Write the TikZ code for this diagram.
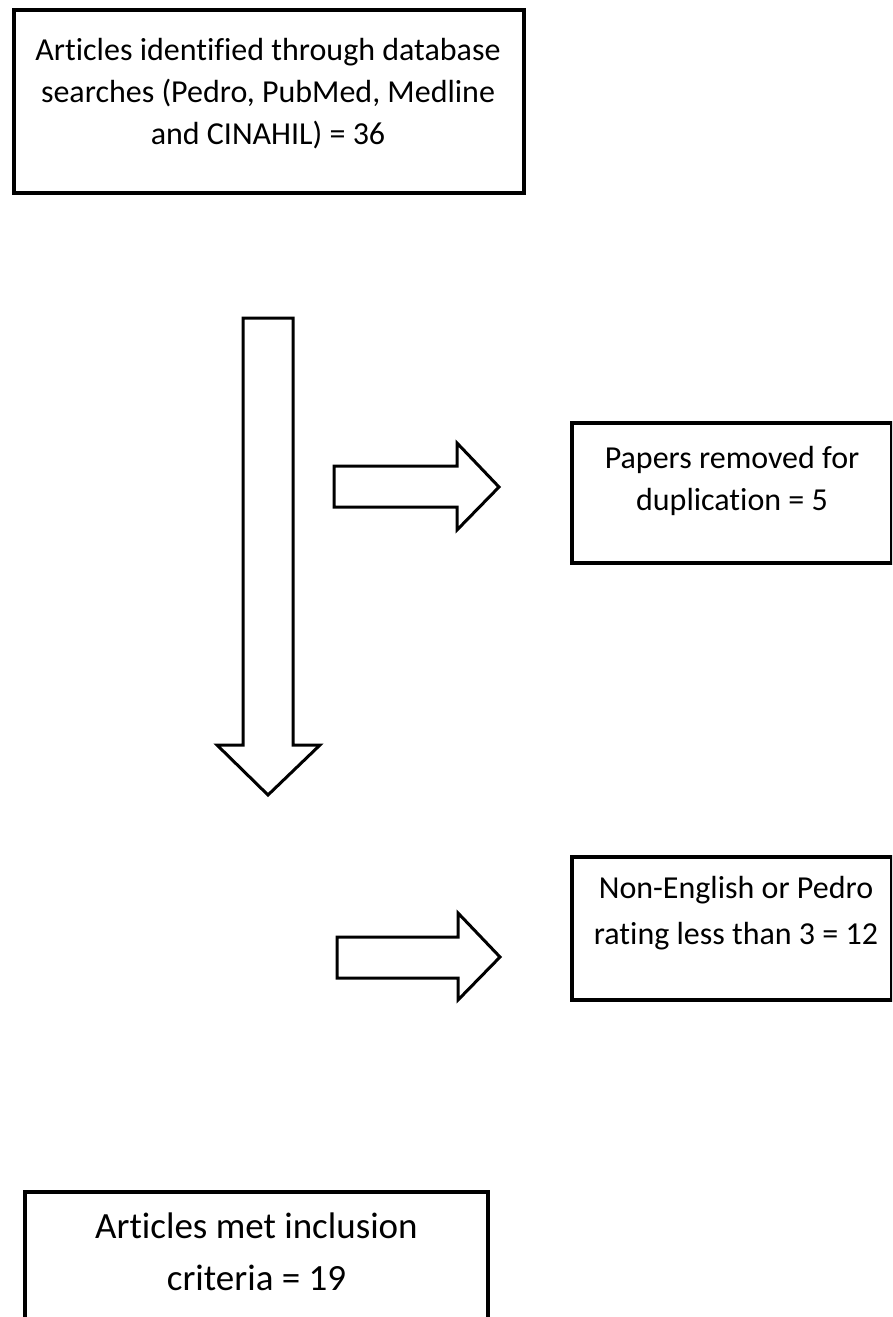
\documentclass[tikz,border=0pt]{standalone}
\usepackage{fontspec}
\setmainfont{Carlito}[Ligatures={NoCommon,NoContextual}]
\begin{document}
\begin{tikzpicture}[x=1pt,y=-1pt,
  boxnode/.style={draw=black, line width=4pt, inner sep=0pt, fill=white},
  blockarrow/.style={draw=black, line width=3pt, fill=white, line join=miter},
  txt/.style={anchor=north, align=center, inner sep=0pt},
  fsmall/.style={font=\fontsize{32}{42}\selectfont},
  fmid/.style={font=\fontsize{32}{46}\selectfont},
  fbig/.style={font=\fontsize{37}{52}\selectfont}]
\useasboundingbox (0,0) rectangle (892,1317);
\clip (0,0) rectangle (892,1317);
\fill[white] (0,0) rectangle (892,1317);

% boxes
\node[boxnode, minimum width=510, minimum height=183] (b1) at (269,101.5) {};
\node[boxnode, minimum width=320, minimum height=140] (b2) at (732,493) {};
\node[boxnode, minimum width=320, minimum height=143] (b3) at (732,928.5) {};
\node[boxnode, minimum width=463, minimum height=150] (b4) at (256.5,1267) {};

% texts (node top = first baseline - 26)
\node[txt, fsmall] (t1) at (268,34) {\rule{0pt}{26pt}Articles identified through database\\searches (Pedro, PubMed, Medline\\and CINAHIL) = 36};
\node[txt, fsmall] (t2) at (732,442) {\rule{0pt}{26pt}Papers removed for\\duplication = 5};
\node[txt, fmid] (t3) at (736,872) {\rule{0pt}{26pt}Non-English or Pedro\\rating less than 3 = 12};
\node[txt, fbig] (t4) at (256.5,1208) {\rule{0pt}{30pt}Articles met inclusion\\criteria = 19};

% block arrows
\coordinate (down) at (268,318);
\coordinate (r1) at (334,487);
\coordinate (r2) at (337,957);
\draw[blockarrow] (down) ++(-25,0) -- ++(50,0) -- ++(0,427) -- ++(27,0)
  -- ++(-52,50) -- ++(-51,-50) -- ++(26,0) -- cycle;
\draw[blockarrow] (r1) ++(0,-21) -- ++(123,0) -- ++(0,-23) -- ++(42,44)
  -- ++(-42,43) -- ++(0,-23) -- ++(-123,0) -- cycle;
\draw[blockarrow] (r2) ++(0,-20) -- ++(121,0) -- ++(0,-24) -- ++(42,44)
  -- ++(-42,43) -- ++(0,-22) -- ++(-121,0) -- cycle;
\end{tikzpicture}
\end{document}
